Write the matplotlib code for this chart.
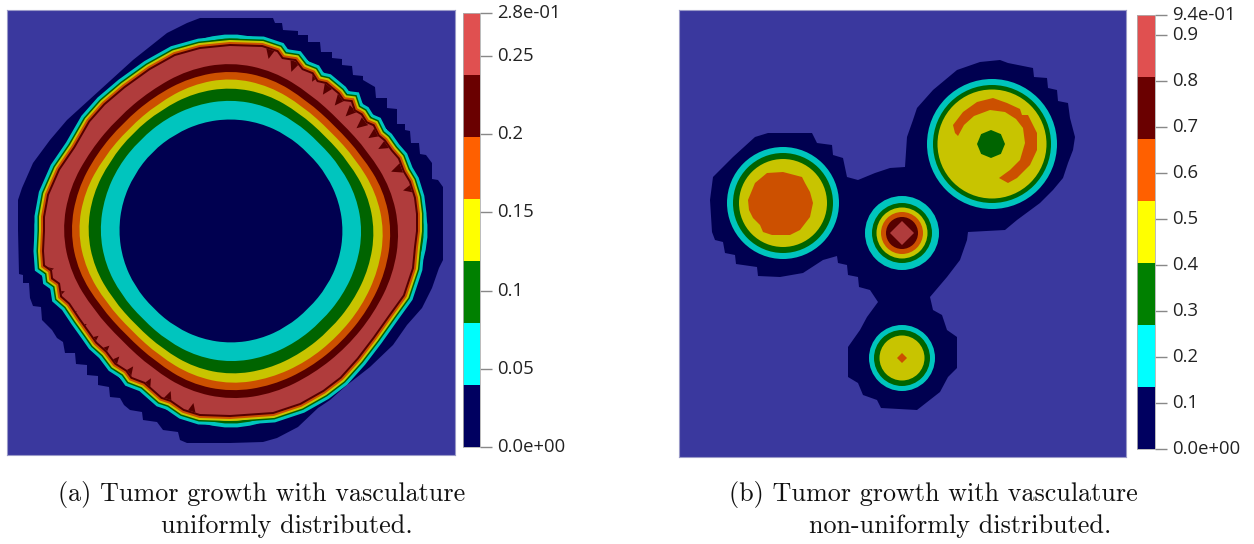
# Tumor growth contour maps, two panels with stepped colour bars

import numpy as np
import matplotlib
matplotlib.use('Agg')
import matplotlib.pyplot as plt
from matplotlib.patches import Polygon, Circle, RegularPolygon, PathPatch
from matplotlib.path import Path
from matplotlib.transforms import ScaledTranslation

W, H = 1254, 544

# contour colours as shown on the maps
bg_blue = '#3A389E'
navy = '#000050'
cyan = '#00C5BE'
green = '#006400'
olive = '#C8C400'
orange = '#CC5000'
darkred = '#560000'
red = '#B03C3C'

# colour bar colours, bottom to top
bar_colors = ['#000060', '#00FFFF', '#008000', '#FFFF00', '#FF6000', '#6A0000', '#E05050']

bar_a_edges = [0, 0.0396, 0.0793, 0.1189, 0.1586, 0.1982, 0.2379, 0.2775]
bar_a_ticks = [0, 0.05, 0.1, 0.15, 0.2, 0.25, 0.2775]
bar_a_labels = ['0.0e+00', '0.05', '0.1', '0.15', '0.2', '0.25', '2.8e-01']

bar_b_edges = [0, 0.1347, 0.2694, 0.4041, 0.5389, 0.6736, 0.8083, 0.943]
bar_b_ticks = [0, 0.1, 0.2, 0.3, 0.4, 0.5, 0.6, 0.7, 0.8, 0.9, 0.943]
bar_b_labels = ['0.0e+00', '0.1', '0.2', '0.3', '0.4', '0.5', '0.6', '0.7', '0.8', '0.9', '9.4e-01']

# panel a: ring radii around the middle, one value every 15 degrees from +x going counter clockwise
ring_center_a = (231, 231)
ring_angles = list(range(0, 360, 15))
r_darkred = [169,165.5,158.5,155,158.5,165.5,169,167,162,160,162,167,169,165.5,158.5,155,158.5,165.5,169,168,165,164,165,168]
r_orange = [161,158,151,148,151,158,161,159,155,153,155,159,161,158,151,148,151,158,161,160,158,157,158,160]
r_olive = [153.5,150,144,141,144,150,153.5,151.5,147,145,147,151.5,153.5,150,144,141,144,150,153.5,152.5,151,150,151,152.5]
r_green = [144,141.5,136.5,134,136.5,141.5,144,143,140,139,140,143,144,141.5,136.5,134,136.5,141.5,144,143,141,140,141,143]
r_cyan = [131.5,130,127,125,127,130,131.5,131,130,129,130,131,131.5,130,127,125,127,130,131.5,130.5,129,128,129,130.5]
r_hole = [112.5,112,111,110,111,112,112.5,112.5,112,112,112,112.5,112.5,112,111,110,111,112,112.5,112,111,110,111,112]

# panel a: the thin outer rings get wider near the axes, small values stay hidden under the strokes
r_rim_cyan = [200,193,170,160,170,193,200,193,170,160,170,193,200,193,170,160,170,193,200,193,170,160,170,193]
r_rim_green = [196,189,170,160,170,189,196,189,170,160,170,189,196,189,170,160,170,189,196,189,170,160,170,189]
r_rim_olive = [193,187,170,160,170,187,193,187,170,160,170,187,193,187,170,160,170,187,193,187,170,160,170,187]
r_rim_orange = [190,185,170,160,170,185,190,185,170,160,170,185,190,185,170,160,170,185,190,185,170,160,170,185]

# panel a: outer edge of the low level region, clockwise from the top
outer_a_x = [230,273,275,282,283,298,298,308,308,320,321,332,332,342,342,352,353,363,363,375,376,387,387,397,397,405,405,410,411,419,420,426,432,432,438,443,443,443,439,432,422,407,393,370,347,330,318,298,277,263,230,187,180,178,163,157,143,142,130,124,120,110,109,98,98,87,87,76,75,65,63,57,52,42,41,33,30,29,23,23,19,18,18,22,33,50,67,100,133,167,187,200]
outer_a_y = [18,18,23,23,30,31,35,35,42,42,52,52,58,59,65,66,75,76,80,87,98,98,108,109,124,124,130,131,143,143,154,155,163,179,180,187,213,260,268,288,308,325,345,367,385,400,408,427,438,442,443,443,440,432,430,422,420,412,410,405,398,397,387,385,376,375,365,364,353,353,342,338,330,320,307,306,298,283,283,275,274,230,200,188,163,140,120,90,60,33,23,18]

# panel a: outer edge of the red band, clockwise from the top
rim_a_x = [230,262,277,282,295,302,312,317,326,338,343,351,354,361,366,373,378,384,391,398,403,409,414,416,416,414,412,403,390,373,357,340,323,300,273,230,200,184,171,162,145,132,127,116,107,97,90,80,70,62,60,53,52,45,44,45,45,49,60,75,90,105,125,150,175,200]
rim_a_y = [46,47,52,59,61,70,74,82,84,94,101,102,111,115,123,126,136,141,151,159,172,182,198,214,231,247,268,295,313,337,358,377,390,403,412,415,414,409,400,397,382,377,370,363,351,342,332,318,303,296,283,278,270,265,251,231,217,195,170,148,122,105,88,70,56,49]

# panel a: tips of the dark teeth that cut into the red band
teeth_a_x = [269,292,313,324,336,347,358,370,380,393,405,52,63,75,85,97,108,118,132,150,170,193]
teeth_a_y = [57,70,80,93,104,115,127,137,148,171,190,269,292,312,325,337,347,358,368,380,393,405]

# panel b: outer edge of the low level region
outer_b_x = [980,1000,1008,1033,1034,1047,1048,1057,1058,1068,1070,1075,1073,1068,1063,1053,1040,1017,1005,968,967,960,947,930,933,942,947,957,957,948,940,917,881,877,863,858,848,848,860,867,878,870,859,858,848,847,838,837,823,803,780,758,757,736,735,725,723,715,712,710,713,733,755,768,812,817,832,833,843,847,858,875,890,905,907,913,917,933,957]
outer_b_y = [62,60,63,68,77,78,88,90,101,103,118,137,150,163,178,190,203,220,230,232,240,260,277,297,310,315,330,337,368,377,392,410,408,400,395,383,377,347,330,317,302,290,287,277,275,265,263,256,260,273,277,276,267,264,255,253,242,240,232,200,177,157,137,133,133,143,145,155,158,177,180,173,168,167,137,120,108,90,70]

# panel b: nested level radii of the spots, outermost first
left_center = (783, 203)
left_radii = [56, 50, 44]
left_colors = [cyan, green, olive]
core_x = [748,755,767,783,802,805,810,813,810,800,790,772,763,760,753,749]
core_y = [200,183,173,172,177,183,192,203,217,230,235,235,232,225,218,210]

mid_center = (902, 233)
mid_radii = [37, 30, 25.5, 21, 16]
mid_colors = [cyan, green, olive, orange, darkred]
mid_diamond = 12

low_center = (902, 358)
low_radii = [33, 28, 22.5]
low_colors = [cyan, green, olive]
low_diamond = 5

top_center = (992, 144)
top_radii = [65, 59, 54.5]
top_colors = [cyan, green, olive]
top_core = 14

# panel b: orange arc in the top right spot
arc_x = [953,963,977,993,1007,1020,1022,1028,1037,1037,1030,1017,1008,999,1010,1020,1025,1023,1016,1005,990,974,964,958,955]
arc_y = [125,112,102,98,103,109,115,115,133,150,165,178,183,178,170,160,143,128,119,112,110,116,125,136,133]


def px_axes(x0, y0, x1, y1):
	return fig.add_axes([x0/W, 1-y1/H, (x1-x0)/W, (y1-y0)/H])


def ring_patch(center, radii, color):
	# closed quadratic spline, the table points are its control points
	a = np.radians(ring_angles)
	r = np.array(radii)
	pts = np.column_stack([center[0]+r*np.cos(a), center[1]-r*np.sin(a)])
	mids = (pts+np.roll(pts, -1, axis=0))/2
	verts = [mids[-1]]
	codes = [Path.MOVETO]
	for p, m in zip(pts, mids):
		verts += [p, m]
		codes += [Path.CURVE3, Path.CURVE3]
	return PathPatch(Path(verts, codes), fc=color, ec='none')


def map_axes(x0, y0, x1, y1):
	ax = px_axes(x0, y0, x1, y1)
	ax.set_xlim(x0, x1)
	ax.set_ylim(y1, y0)
	ax.set_facecolor(bg_blue)
	ax.set_xticks([])
	ax.set_yticks([])
	for s in ax.spines.values():
		s.set_color('#9a9ac8')
		s.set_linewidth(0.8)
	return ax


def color_bar(x0, y0, x1, y1, edges, ticks, labels):
	ax = px_axes(x0, y0, x1, y1)
	ax.bar([0]*7, np.diff(edges), bottom=edges[:-1], width=1, color=bar_colors, linewidth=0)
	ax.set_xlim(-0.5, 0.5)
	ax.set_ylim(edges[0], edges[-1])
	ax.set_xticks([])
	ax.yaxis.tick_right()
	ax.set_yticks(ticks)
	ax.set_yticklabels(labels, fontsize=13.3, color='#222222', fontfamily='Open Sans')
	ax.tick_params(axis='y', length=8.5, width=1, color='#888888', pad=4)
	lift = ScaledTranslation(0, 2/100, fig.dpi_scale_trans)
	for lab in ax.get_yticklabels():
		lab.set_transform(lab.get_transform()+lift)
	for s in ax.spines.values():
		s.set_color('#b0b0b0')
		s.set_linewidth(0.6)
	return ax


fig = plt.figure(figsize=(W/100, H/100), dpi=100)

###############################################################################################################

# panel a

ax = map_axes(7, 10, 455, 455)
ax.add_patch(Polygon(np.column_stack([outer_a_x, outer_a_y]), closed=True, fc=navy, ec='none'))

rim = np.column_stack([rim_a_x, rim_a_y])
# rim bands are strokes of the red edge, half of each stroke is hidden under the red fill
for color, px, radii in [(cyan, 10.5, r_rim_cyan), (green, 7.5, r_rim_green), (olive, 6, r_rim_olive), (orange, 4, r_rim_orange)]:
	ax.add_patch(ring_patch(ring_center_a, radii, color))
	ax.add_patch(Polygon(rim, closed=True, fc='none', ec=color, lw=2*px*0.72, joinstyle='miter'))
ax.add_patch(Polygon(rim, closed=True, fc='none', ec=darkred, lw=2*2*0.72, joinstyle='miter'))
rim_patch = Polygon(rim, closed=True, fc=red, ec='none')
ax.add_patch(rim_patch)

for tx, ty in zip(teeth_a_x, teeth_a_y):
	out = np.array([tx-ring_center_a[0], ty-ring_center_a[1]], dtype=float)
	out = out/np.linalg.norm(out)
	side = np.array([-out[1], out[0]])
	tip = np.array([tx, ty])-2*out
	tooth = Polygon([tip, tip+11*out+5*side, tip+11*out-5*side], closed=True, fc=darkred, ec='none')
	ax.add_patch(tooth)
	tooth.set_clip_path(rim_patch)

for radii, color in [(r_darkred, darkred), (r_orange, orange), (r_olive, olive), (r_green, green), (r_cyan, cyan), (r_hole, navy)]:
	ax.add_patch(ring_patch(ring_center_a, radii, color))

color_bar(463, 13, 480, 447, bar_a_edges, bar_a_ticks, bar_a_labels)

###############################################################################################################

# panel b

ax = map_axes(679, 10, 1126, 457)
ax.add_patch(Polygon(np.column_stack([outer_b_x, outer_b_y]), closed=True, fc=navy, ec='none'))

for center, radii, colors in [(left_center, left_radii, left_colors), (mid_center, mid_radii, mid_colors),
		(low_center, low_radii, low_colors), (top_center, top_radii, top_colors)]:
	for r, c in zip(radii, colors):
		ax.add_patch(Circle(center, r, fc=c, ec='none'))

ax.add_patch(Polygon(np.column_stack([core_x, core_y]), closed=True, fc=orange, ec='none'))
ax.add_patch(RegularPolygon(mid_center, 4, radius=mid_diamond, fc=red, ec='none'))
ax.add_patch(RegularPolygon(low_center, 4, radius=low_diamond, fc=orange, ec='none'))
ax.add_patch(RegularPolygon((991, 144), 8, radius=top_core, fc=green, ec='none'))
ax.add_patch(Polygon(np.column_stack([arc_x, arc_y]), closed=True, fc=orange, ec='none'))

color_bar(1137, 15, 1155, 449, bar_b_edges, bar_b_ticks, bar_b_labels)

###############################################################################################################

# captions

for x, y, s in [(58, 494.5, '(a) Tumor growth with vasculature'), (161, 526, 'uniformly distributed.'),
		(729, 494.5, '(b) Tumor growth with vasculature'), (809, 526, 'non-uniformly distributed.')]:
	fig.text(x/W, 1-y/H, s, fontfamily='cmr10', fontsize=18.8, color='#111111', va='center', ha='left')

fig.savefig('out.png', dpi=100)
